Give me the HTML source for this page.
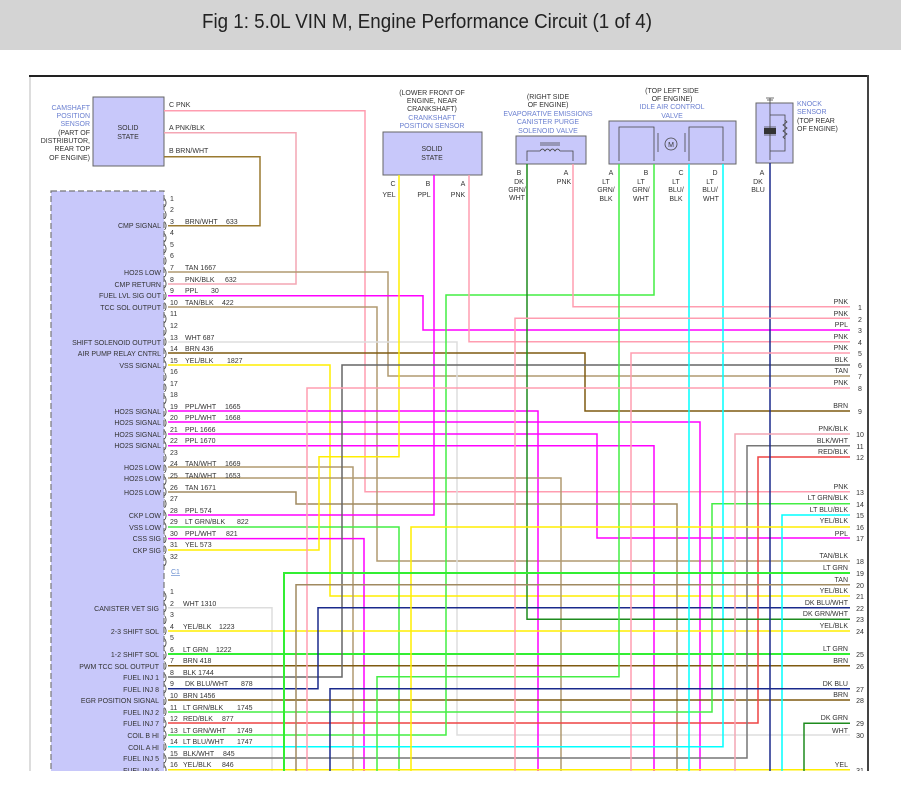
<!DOCTYPE html>
<html><head><meta charset="utf-8"><style>
html,body{margin:0;padding:0;background:#fff;}
svg{display:block;}
text{font-family:"Liberation Sans",sans-serif;}
</style></head><body>
<svg width="901" height="787" viewBox="0 0 901 787" xmlns="http://www.w3.org/2000/svg">
<rect x="0" y="0" width="901" height="50" fill="#d4d4d4"/>
<text x="427" y="28" font-size="20" text-anchor="middle" textLength="450" lengthAdjust="spacingAndGlyphs" fill="#222">Fig 1: 5.0L VIN M, Engine Performance Circuit (1 of 4)</text>
<line x1="30" y1="76" x2="30" y2="771" stroke="#bbb" stroke-width="1"/>
<line x1="29" y1="76" x2="869" y2="76" stroke="#222" stroke-width="2"/>
<line x1="868" y1="75" x2="868" y2="771" stroke="#444" stroke-width="2"/>
<defs><clipPath id="c"><rect x="0" y="0" width="901" height="771"/></clipPath></defs>

<!-- ECM box -->
<rect x="51" y="191" width="113" height="590" fill="#c8c8fa" stroke="#777" stroke-dasharray="6,3" stroke-width="1.2" clip-path="url(#c)"/>

<!-- Components -->
<rect x="93" y="97" width="71" height="69" fill="#c8c8fa" stroke="#666"/>
<text font-size="7" fill="#333" text-anchor="middle"><tspan x="128" y="130">SOLID</tspan><tspan x="128" y="139">STATE</tspan></text>
<text font-size="7" text-anchor="end"><tspan x="90" y="110" fill="#6a7fd0">CAMSHAFT</tspan><tspan x="90" y="118" fill="#6a7fd0">POSITION</tspan><tspan x="90" y="126" fill="#6a7fd0">SENSOR</tspan><tspan x="90" y="135" fill="#333">(PART OF</tspan><tspan x="90" y="143" fill="#333">DISTRIBUTOR,</tspan><tspan x="90" y="151" fill="#333">REAR TOP</tspan><tspan x="90" y="160" fill="#333">OF ENGINE)</tspan></text>
<text font-size="7" fill="#333"><tspan x="169" y="107">C  PNK</tspan><tspan x="169" y="130">A  PNK/BLK</tspan><tspan x="169" y="153">B  BRN/WHT</tspan></text>

<rect x="383" y="132" width="99" height="43" fill="#c8c8fa" stroke="#666"/>
<text font-size="7" fill="#333" text-anchor="middle"><tspan x="432" y="151">SOLID</tspan><tspan x="432" y="160">STATE</tspan></text>
<text font-size="7" text-anchor="middle"><tspan x="432" y="95" fill="#333">(LOWER FRONT OF</tspan><tspan x="432" y="103" fill="#333">ENGINE, NEAR</tspan><tspan x="432" y="111" fill="#333">CRANKSHAFT)</tspan><tspan x="432" y="120" fill="#6a7fd0">CRANKSHAFT</tspan><tspan x="432" y="128" fill="#6a7fd0">POSITION SENSOR</tspan></text>
<text font-size="7" fill="#333" text-anchor="middle"><tspan x="393" y="186">C</tspan><tspan x="428" y="186">B</tspan><tspan x="463" y="186">A</tspan><tspan x="389" y="197">YEL</tspan><tspan x="424" y="197">PPL</tspan><tspan x="458" y="197">PNK</tspan></text>

<rect x="516" y="136" width="70" height="28" fill="#c8c8fa" stroke="#666"/>
<path d="M527,161 V151 H540 M560,151 H573 V161" fill="none" stroke="#444" stroke-width="0.8"/>
<path d="M540,151 q2.5,-4 5,0 q2.5,-4 5,0 q2.5,-4 5,0 q2.5,-4 5,0 M540,145 H560 M540,143 H560" fill="none" stroke="#444" stroke-width="0.8"/>
<text font-size="7" text-anchor="middle"><tspan x="548" y="99" fill="#333">(RIGHT SIDE</tspan><tspan x="548" y="107" fill="#333">OF ENGINE)</tspan><tspan x="548" y="116" fill="#6a7fd0">EVAPORATIVE EMISSIONS</tspan><tspan x="548" y="124" fill="#6a7fd0">CANISTER PURGE</tspan><tspan x="548" y="133" fill="#6a7fd0">SOLENOID VALVE</tspan></text>
<text font-size="7" fill="#333" text-anchor="middle"><tspan x="519" y="175">B</tspan><tspan x="519" y="184">DK</tspan><tspan x="517" y="192">GRN/</tspan><tspan x="517" y="200">WHT</tspan><tspan x="566" y="175">A</tspan><tspan x="564" y="184">PNK</tspan></text>

<rect x="609" y="121" width="127" height="43" fill="#c8c8fa" stroke="#666"/>
<path d="M619,161 V127 H654 V161 M689,161 V127 H723 V161" fill="none" stroke="#444" stroke-width="0.8"/>
<line x1="658" y1="133" x2="658" y2="152" stroke="#444" stroke-width="0.8"/>
<line x1="685" y1="133" x2="685" y2="152" stroke="#444" stroke-width="0.8"/>
<circle cx="671" cy="144" r="6" fill="none" stroke="#444" stroke-width="0.8"/>
<text x="671" y="147" font-size="7" text-anchor="middle" fill="#333">M</text>
<text font-size="7" text-anchor="middle"><tspan x="672" y="93" fill="#333">(TOP LEFT SIDE</tspan><tspan x="672" y="101" fill="#333">OF ENGINE)</tspan><tspan x="672" y="109" fill="#6a7fd0">IDLE AIR CONTROL</tspan><tspan x="672" y="118" fill="#6a7fd0">VALVE</tspan></text>
<text font-size="7" fill="#333" text-anchor="middle"><tspan x="611" y="175">A</tspan><tspan x="646" y="175">B</tspan><tspan x="681" y="175">C</tspan><tspan x="716" y="175">D</tspan>
<tspan x="606" y="184">LT</tspan><tspan x="641" y="184">LT</tspan><tspan x="676" y="184">LT</tspan><tspan x="711" y="184">LT</tspan>
<tspan x="606" y="192">GRN/</tspan><tspan x="641" y="192">GRN/</tspan><tspan x="676" y="192">BLU/</tspan><tspan x="711" y="192">BLU/</tspan>
<tspan x="606" y="201">BLK</tspan><tspan x="641" y="201">WHT</tspan><tspan x="676" y="201">BLK</tspan><tspan x="711" y="201">WHT</tspan></text>

<rect x="756" y="103" width="37" height="60" fill="#c8c8fa" stroke="#666"/>
<path d="M770,98 V160 M766,98 H774 M767,100 H773 M770,115 H785 V151 H770 M764,127 H776 M764,135 H776" fill="none" stroke="#444" stroke-width="0.8"/>
<rect x="764" y="128" width="12" height="6" fill="#333"/>
<path d="M785,120 l2,2 l-4,3 l4,3 l-4,3 l4,3 l-4,3 l2,2" fill="none" stroke="#444" stroke-width="0.8"/>
<text font-size="7" text-anchor="start"><tspan x="797" y="106" fill="#6a7fd0">KNOCK</tspan><tspan x="797" y="114" fill="#6a7fd0">SENSOR</tspan><tspan x="797" y="123" fill="#333">(TOP REAR</tspan><tspan x="797" y="131" fill="#333">OF ENGINE)</tspan></text>
<text font-size="7" fill="#333" text-anchor="middle"><tspan x="762" y="175">A</tspan><tspan x="758" y="184">DK</tspan><tspan x="758" y="192">BLU</tspan></text>

<!-- Wires -->
<g fill="none" stroke-width="1.5" clip-path="url(#c)">
<path d="M164,110.7 H365 V491.7 H850" stroke="#ff9db0"/>
<path d="M164,132.7 H296 V284 H168" stroke="#f4a6b4"/>
<path d="M164,156.7 H260 V225.7 H168" stroke="#9a7a30"/>
<path d="M168,272 H388 V376 H850" stroke="#b09a70"/>
<path d="M168,295.7 H423 V330 H850" stroke="#ff00ff"/>
<path d="M168,307 H377 V561 H850" stroke="#b09a70"/>
<path d="M168,342 H457 V735 H850" stroke="#dddddd"/>
<path d="M168,353 H585 V411 H850" stroke="#7f5a10"/>
<path d="M168,365 H330 V596 H850" stroke="#ffee00"/>
<path d="M168,411 H538 V775" stroke="#ff00ff"/>
<path d="M168,422 H700 V775" stroke="#ff00ff"/>
<path d="M168,434 H597 V538 H850" stroke="#ff00ff"/>
<path d="M168,445.7 H654 V775" stroke="#ff00ff"/>
<path d="M168,467 H353 V775" stroke="#b09a70"/>
<path d="M168,478 H561 V775" stroke="#b09a70"/>
<path d="M168,492 H296 V504 H677 V775" stroke="#a08a60"/>
<path d="M168,515 H434 V175" stroke="#ff00ff"/>
<path d="M168,527 H399 V775" stroke="#44ee44"/>
<path d="M168,538.6 H364 V775" stroke="#ff00ff"/>
<path d="M168,550 H319 V456.7 H399 V175" stroke="#ffee00"/>
<path d="M168,607.7 H272 V775" stroke="#dddddd"/>
<path d="M168,631 H850" stroke="#ffee00"/>
<path d="M168,654 H850" stroke="#33ee33" stroke-width="2"/>
<path d="M168,665.7 H850" stroke="#7f5a10"/>
<path d="M168,677 H342 V365 H850" stroke="#666"/>
<path d="M168,688.7 H318 V607.7 H850" stroke="#1a2a8c"/>
<path d="M168,700 H850" stroke="#7f5a10"/>
<path d="M168,712 H712 V503.7 H850" stroke="#44ee44"/>
<path d="M168,723 H758 V457 H850" stroke="#ee4444"/>
<path d="M168,735 H446 V295 H654 V164" stroke="#44ee44"/>
<path d="M168,746.7 H723 V164" stroke="#00ffff"/>
<path d="M168,758 H747 V445.7 H850" stroke="#777"/>
<path d="M168,769.7 H850" stroke="#ffee00"/>
<path d="M469,175 V341.7 H850" stroke="#ff9db0"/>
<path d="M527,164 V619.3 H850" stroke="#1e8b1e"/>
<path d="M573,164 V306.7 H850" stroke="#ff9db0"/>
<path d="M619,164 V676.7 H377 V775" stroke="#44ee44"/>
<path d="M689,164 V775" stroke="#00ffff"/>
<path d="M770,163 V775" stroke="#1a2a8c"/>
<path d="M850,318.3 H515 V775" stroke="#ff9db0"/>
<path d="M850,353 H631 V775" stroke="#ff9db0"/>
<path d="M850,388 H307 V775" stroke="#ff9db0"/>
<path d="M850,434 H735 V775" stroke="#f4a6b4"/>
<path d="M850,515 H782 V775" stroke="#00ffff"/>
<path d="M850,527 H411 V775" stroke="#ffee00"/>
<path d="M850,573 H284 V775" stroke="#33ee33" stroke-width="2"/>
<path d="M850,584.7 H296 V775" stroke="#a08a60"/>
<path d="M850,688.7 H330 V775" stroke="#1a2a8c"/>
<path d="M850,723.3 H804 V775" stroke="#1e8b1e"/>
</g>

<!-- ECM pin numbers & connector glyphs -->
<g font-size="7" fill="#333" clip-path="url(#c)">
<text x="164" y="205" font-size="9">)</text><text x="170" y="201">1</text>
<text x="164" y="217" font-size="9">)</text><text x="170" y="212">2</text>
<text x="164" y="228" font-size="9">)</text><text x="170" y="224">3</text><text x="185" y="224">BRN/WHT</text><text x="226" y="224">633</text>
<text x="164" y="240" font-size="9">)</text><text x="170" y="235">4</text>
<text x="164" y="251" font-size="9">)</text><text x="170" y="247">5</text>
<text x="164" y="263" font-size="9">)</text><text x="170" y="258">6</text>
<text x="164" y="275" font-size="9">)</text><text x="170" y="270">7</text><text x="185" y="270">TAN   1667</text>
<text x="164" y="286" font-size="9">)</text><text x="170" y="282">8</text><text x="185" y="282">PNK/BLK</text><text x="225" y="282">632</text>
<text x="164" y="298" font-size="9">)</text><text x="170" y="293">9</text><text x="185" y="293">PPL</text><text x="211" y="293">30</text>
<text x="164" y="309" font-size="9">)</text><text x="170" y="305">10</text><text x="185" y="305">TAN/BLK</text><text x="222" y="305">422</text>
<text x="164" y="321" font-size="9">)</text><text x="170" y="316">11</text>
<text x="164" y="333" font-size="9">)</text><text x="170" y="328">12</text>
<text x="164" y="344" font-size="9">)</text><text x="170" y="340">13</text><text x="185" y="340">WHT  687</text>
<text x="164" y="356" font-size="9">)</text><text x="170" y="351">14</text><text x="185" y="351">BRN  436</text>
<text x="164" y="367" font-size="9">)</text><text x="170" y="363">15</text><text x="185" y="363">YEL/BLK</text><text x="227" y="363">1827</text>
<text x="164" y="379" font-size="9">)</text><text x="170" y="374">16</text>
<text x="164" y="390" font-size="9">)</text><text x="170" y="386">17</text>
<text x="164" y="402" font-size="9">)</text><text x="170" y="397">18</text>
<text x="164" y="414" font-size="9">)</text><text x="170" y="409">19</text><text x="185" y="409">PPL/WHT</text><text x="225" y="409">1665</text>
<text x="164" y="425" font-size="9">)</text><text x="170" y="420">20</text><text x="185" y="420">PPL/WHT</text><text x="225" y="420">1668</text>
<text x="164" y="437" font-size="9">)</text><text x="170" y="432">21</text><text x="185" y="432">PPL   1666</text>
<text x="164" y="448" font-size="9">)</text><text x="170" y="443">22</text><text x="185" y="443">PPL   1670</text>
<text x="164" y="460" font-size="9">)</text><text x="170" y="455">23</text>
<text x="164" y="471" font-size="9">)</text><text x="170" y="466">24</text><text x="185" y="466">TAN/WHT</text><text x="225" y="466">1669</text>
<text x="164" y="483" font-size="9">)</text><text x="170" y="478">25</text><text x="185" y="478">TAN/WHT</text><text x="225" y="478">1653</text>
<text x="164" y="494" font-size="9">)</text><text x="170" y="490">26</text><text x="185" y="490">TAN   1671</text>
<text x="164" y="506" font-size="9">)</text><text x="170" y="501">27</text>
<text x="164" y="518" font-size="9">)</text><text x="170" y="513">28</text><text x="185" y="513">PPL   574</text>
<text x="164" y="529" font-size="9">)</text><text x="170" y="524">29</text><text x="185" y="524">LT GRN/BLK</text><text x="237" y="524">822</text>
<text x="164" y="541" font-size="9">)</text><text x="170" y="536">30</text><text x="185" y="536">PPL/WHT</text><text x="226" y="536">821</text>
<text x="164" y="552" font-size="9">)</text><text x="170" y="547">31</text><text x="185" y="547">YEL   573</text>
<text x="164" y="564" font-size="9">)</text><text x="170" y="559">32</text>
<text x="171" y="574" fill="#6a8fd0" text-decoration="underline">C1</text>
<text x="164" y="599" font-size="9">)</text><text x="170" y="594">1</text>
<text x="164" y="610" font-size="9">)</text><text x="170" y="606">2</text><text x="183" y="606">WHT  1310</text>
<text x="164" y="622" font-size="9">)</text><text x="170" y="617">3</text>
<text x="164" y="633" font-size="9">)</text><text x="170" y="629">4</text><text x="183" y="629">YEL/BLK</text><text x="219" y="629">1223</text>
<text x="164" y="645" font-size="9">)</text><text x="170" y="640">5</text>
<text x="164" y="657" font-size="9">)</text><text x="170" y="652">6</text><text x="183" y="652">LT GRN</text><text x="216" y="652">1222</text>
<text x="164" y="668" font-size="9">)</text><text x="170" y="663">7</text><text x="183" y="663">BRN  418</text>
<text x="164" y="680" font-size="9">)</text><text x="170" y="675">8</text><text x="183" y="675">BLK  1744</text>
<text x="164" y="691" font-size="9">)</text><text x="170" y="686">9</text><text x="185" y="686">DK BLU/WHT</text><text x="241" y="686">878</text>
<text x="164" y="703" font-size="9">)</text><text x="170" y="698">10</text><text x="183" y="698">BRN  1456</text>
<text x="164" y="714" font-size="9">)</text><text x="170" y="710">11</text><text x="183" y="710">LT GRN/BLK</text><text x="237" y="710">1745</text>
<text x="164" y="726" font-size="9">)</text><text x="170" y="721">12</text><text x="183" y="721">RED/BLK</text><text x="222" y="721">877</text>
<text x="164" y="737" font-size="9">)</text><text x="170" y="733">13</text><text x="183" y="733">LT GRN/WHT</text><text x="237" y="733">1749</text>
<text x="164" y="749" font-size="9">)</text><text x="170" y="744">14</text><text x="183" y="744">LT BLU/WHT</text><text x="237" y="744">1747</text>
<text x="164" y="761" font-size="9">)</text><text x="170" y="756">15</text><text x="183" y="756">BLK/WHT</text><text x="223" y="756">845</text>
<text x="164" y="772" font-size="9">)</text><text x="170" y="767">16</text><text x="183" y="767">YEL/BLK</text><text x="222" y="767">846</text>
</g>

<!-- ECM function labels -->
<g font-size="7" fill="#333" text-anchor="end" clip-path="url(#c)">
<text x="161" y="228">CMP SIGNAL</text>
<text x="161" y="275">HO2S LOW</text>
<text x="161" y="287">CMP RETURN</text>
<text x="161" y="298">FUEL LVL SIG OUT</text>
<text x="161" y="310">TCC SOL OUTPUT</text>
<text x="161" y="345">SHIFT SOLENOID OUTPUT</text>
<text x="161" y="356">AIR PUMP RELAY CNTRL</text>
<text x="161" y="368">VSS SIGNAL</text>
<text x="161" y="414">HO2S SIGNAL</text>
<text x="161" y="425">HO2S SIGNAL</text>
<text x="161" y="437">HO2S SIGNAL</text>
<text x="161" y="448">HO2S SIGNAL</text>
<text x="161" y="470">HO2S LOW</text>
<text x="161" y="481">HO2S LOW</text>
<text x="161" y="495">HO2S LOW</text>
<text x="161" y="518">CKP LOW</text>
<text x="161" y="530">VSS LOW</text>
<text x="161" y="541">CSS SIG</text>
<text x="161" y="553">CKP SIG</text>
<text x="159" y="611">CANISTER VET SIG</text>
<text x="159" y="634">2-3 SHIFT SOL</text>
<text x="159" y="657">1-2 SHIFT SOL</text>
<text x="159" y="669">PWM TCC SOL OUTPUT</text>
<text x="159" y="680">FUEL INJ 1</text>
<text x="159" y="692">FUEL INJ 8</text>
<text x="159" y="703">EGR POSITION SIGNAL</text>
<text x="159" y="715">FUEL INJ 2</text>
<text x="159" y="726">FUEL INJ 7</text>
<text x="159" y="738">COIL B HI</text>
<text x="159" y="750">COIL A HI</text>
<text x="159" y="761">FUEL INJ 5</text>
<text x="159" y="773">FUEL INJ 6</text>
</g>

<!-- Right side labels -->
<g font-size="7" fill="#333" clip-path="url(#c)">
<g text-anchor="end">
<text x="848" y="304">PNK</text><text x="848" y="316">PNK</text><text x="848" y="327">PPL</text><text x="848" y="339">PNK</text>
<text x="848" y="350">PNK</text><text x="848" y="362">BLK</text><text x="848" y="373">TAN</text><text x="848" y="385">PNK</text>
<text x="848" y="408">BRN</text><text x="848" y="431">PNK/BLK</text><text x="848" y="443">BLK/WHT</text><text x="848" y="454">RED/BLK</text>
<text x="848" y="489">PNK</text><text x="848" y="500">LT GRN/BLK</text><text x="848" y="512">LT BLU/BLK</text><text x="848" y="523">YEL/BLK</text>
<text x="848" y="536">PPL</text><text x="848" y="558">TAN/BLK</text><text x="848" y="570">LT GRN</text><text x="848" y="582">TAN</text>
<text x="848" y="593">YEL/BLK</text><text x="848" y="605">DK BLU/WHT</text><text x="848" y="616">DK GRN/WHT</text><text x="848" y="628">YEL/BLK</text>
<text x="848" y="651">LT GRN</text><text x="848" y="663">BRN</text><text x="848" y="686">DK BLU</text><text x="848" y="697">BRN</text>
<text x="848" y="720">DK GRN</text><text x="848" y="733">WHT</text><text x="848" y="767">YEL</text>
</g>
<g text-anchor="middle">
<text x="860" y="310">1</text><text x="860" y="322">2</text><text x="860" y="333">3</text><text x="860" y="345">4</text>
<text x="860" y="356">5</text><text x="860" y="368">6</text><text x="860" y="379">7</text><text x="860" y="391">8</text>
<text x="860" y="414">9</text><text x="860" y="437">10</text><text x="860" y="449">11</text><text x="860" y="460">12</text>
<text x="860" y="495">13</text><text x="860" y="507">14</text><text x="860" y="518">15</text><text x="860" y="530">16</text>
<text x="860" y="541">17</text><text x="860" y="564">18</text><text x="860" y="576">19</text><text x="860" y="588">20</text>
<text x="860" y="599">21</text><text x="860" y="611">22</text><text x="860" y="622">23</text><text x="860" y="634">24</text>
<text x="860" y="657">25</text><text x="860" y="669">26</text><text x="860" y="692">27</text><text x="860" y="703">28</text>
<text x="860" y="726">29</text><text x="860" y="738">30</text><text x="860" y="773">31</text>
</g>
</g>
<rect x="0" y="771" width="901" height="16" fill="#fff"/>
</svg>
</body></html>
